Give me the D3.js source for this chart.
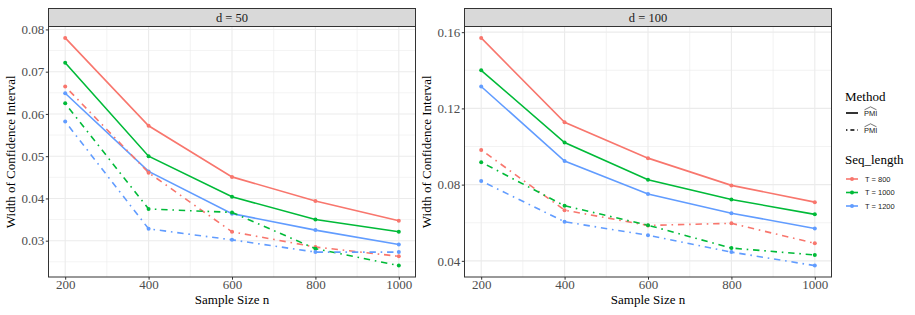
<!DOCTYPE html>
<html>
<head>
<meta charset="utf-8">
<script src="https://cdn.jsdelivr.net/npm/d3@7"></script>
<style>
  body { margin: 0; background: #fff; }
  svg { display: block; }
</style>
</head>
<body>
<div id="chart"></div>
<script>
// ---- data ----
const sampleSizes = [200, 400, 600, 800, 1000];
const panelLabels = ["d = 50", "d = 100"];
const seqLabels = ["T = 800", "T = 1000", "T = 1200"];
const methodLabels = ["PMI", "PMI"];

// d = 50, solid method
const d50_solid_T800 = [0.0780, 0.0572, 0.0451, 0.0394, 0.0347];
const d50_solid_T1000 = [0.0721, 0.0500, 0.0404, 0.0350, 0.0321];
const d50_solid_T1200 = [0.0649, 0.0464, 0.0364, 0.0325, 0.0291];
// d = 50, dot-dash method
const d50_dash_T800 = [0.0665, 0.0461, 0.0321, 0.0285, 0.0263];
const d50_dash_T1000 = [0.0625, 0.0375, 0.0367, 0.0281, 0.0241];
const d50_dash_T1200 = [0.0582, 0.0328, 0.0302, 0.0273, 0.0273];
// d = 100, solid method
const d100_solid_T800 = [0.1570, 0.1127, 0.0939, 0.0796, 0.0708];
const d100_solid_T1000 = [0.1400, 0.1021, 0.0826, 0.0722, 0.0644];
const d100_solid_T1200 = [0.1315, 0.0924, 0.0751, 0.0650, 0.0570];
// d = 100, dot-dash method
const d100_dash_T800 = [0.0982, 0.0666, 0.0586, 0.0597, 0.0492];
const d100_dash_T1000 = [0.0918, 0.0689, 0.0587, 0.0467, 0.0431];
const d100_dash_T1200 = [0.0819, 0.0605, 0.0534, 0.0446, 0.0375];

const xTicks = [200, 400, 600, 800, 1000];
const xMinor = [300, 500, 700, 900];
const yTicks50 = [0.03, 0.04, 0.05, 0.06, 0.07, 0.08];
const yMinor50 = [0.025, 0.035, 0.045, 0.055, 0.065, 0.075];
const yTicks100 = [0.04, 0.08, 0.12, 0.16];
const yMinor100 = [0.06, 0.10, 0.14];

const colors = ["#F8766D", "#00BA38", "#619CFF"];

const panels = [
  {
    label: panelLabels[0], yTicks: yTicks50, yMinor: yMinor50, fmt: d3.format(".2f"),
    series: [
      [d50_solid_T800, d50_solid_T1000, d50_solid_T1200],
      [d50_dash_T800, d50_dash_T1000, d50_dash_T1200]
    ]
  },
  {
    label: panelLabels[1], yTicks: yTicks100, yMinor: yMinor100, fmt: d3.format(".2f"),
    series: [
      [d100_solid_T800, d100_solid_T1000, d100_solid_T1200],
      [d100_dash_T800, d100_dash_T1000, d100_dash_T1200]
    ]
  }
];

// ---- layout ----
const W = 915, H = 315;
const panelX = [48.5, 464.5];
const panelW = 367;
const stripTop = 8.5, stripBottom = 26.5, plotBottom = 277;
const serif = "'Liberation Serif', 'Times New Roman', serif";
const sans = "'Liberation Sans', Arial, sans-serif";
const dotdash = "1.6,4.8,6.4,4.8";

const svg = d3.select("#chart").append("svg")
  .attr("width", W).attr("height", H);

panels.forEach((p, pi) => {
  const x0 = panelX[pi];
  const all = p.series.flat(2);
  const lo = d3.min(all), hi = d3.max(all), pad = (hi - lo) * 0.05;

  const x = d3.scaleLinear().domain([160, 1040]).range([x0, x0 + panelW]);
  const y = d3.scaleLinear().domain([lo - pad, hi + pad]).range([plotBottom, stripBottom]);

  const g = svg.append("g");

  // grid
  g.selectAll(".ymin").data(p.yMinor).enter().append("line")
    .attr("x1", x0).attr("x2", x0 + panelW)
    .attr("y1", d => y(d)).attr("y2", d => y(d))
    .attr("stroke", "#EBEBEB").attr("stroke-width", 0.6);
  g.selectAll(".xmin").data(xMinor).enter().append("line")
    .attr("y1", stripBottom).attr("y2", plotBottom)
    .attr("x1", d => x(d)).attr("x2", d => x(d))
    .attr("stroke", "#EBEBEB").attr("stroke-width", 0.6);
  g.selectAll(".ymaj").data(p.yTicks).enter().append("line")
    .attr("x1", x0).attr("x2", x0 + panelW)
    .attr("y1", d => y(d)).attr("y2", d => y(d))
    .attr("stroke", "#EBEBEB").attr("stroke-width", 1.1);
  g.selectAll(".xmaj").data(xTicks).enter().append("line")
    .attr("y1", stripBottom).attr("y2", plotBottom)
    .attr("x1", d => x(d)).attr("x2", d => x(d))
    .attr("stroke", "#EBEBEB").attr("stroke-width", 1.1);

  // lines and points
  const line = d3.line().x((d, i) => x(sampleSizes[i])).y(d => y(d));
  p.series.forEach((method, mi) => {
    method.forEach((vals, si) => {
      g.append("path").datum(vals)
        .attr("d", line)
        .attr("fill", "none")
        .attr("stroke", colors[si])
        .attr("stroke-width", 1.6)
        .attr("stroke-dasharray", mi === 1 ? dotdash : null);
      g.selectAll(null).data(vals).enter().append("circle")
        .attr("cx", (d, i) => x(sampleSizes[i]))
        .attr("cy", d => y(d))
        .attr("r", 2)
        .attr("fill", colors[si]);
    });
  });

  // border
  g.append("rect")
    .attr("x", x0).attr("y", stripBottom)
    .attr("width", panelW).attr("height", plotBottom - stripBottom)
    .attr("fill", "none").attr("stroke", "#333333").attr("stroke-width", 1);

  // strip
  g.append("rect")
    .attr("x", x0).attr("y", stripTop)
    .attr("width", panelW).attr("height", stripBottom - stripTop)
    .attr("fill", "#D9D9D9").attr("stroke", "#333333").attr("stroke-width", 1);
  g.append("text")
    .attr("x", x0 + panelW / 2).attr("y", (stripTop + stripBottom) / 2)
    .attr("dy", "0.35em").attr("text-anchor", "middle")
    .attr("font-family", serif).attr("font-size", 12.5).attr("fill", "#1A1A1A")
    .text(p.label);

  // axes
  const xAxis = g.append("g")
    .attr("transform", `translate(0,${plotBottom})`)
    .call(d3.axisBottom(x).tickValues(xTicks).tickSize(2.7).tickPadding(0.5).tickFormat(d3.format("d")));
  const yAxis = g.append("g")
    .attr("transform", `translate(${x0},0)`)
    .call(d3.axisLeft(y).tickValues(p.yTicks).tickSize(2.7).tickPadding(1.5).tickFormat(p.fmt));
  [xAxis, yAxis].forEach(a => {
    a.select(".domain").remove();
    a.selectAll(".tick line").attr("stroke", "#333333");
    a.selectAll(".tick text")
      .attr("font-family", serif).attr("font-size", 13).attr("fill", "#4D4D4D");
  });

  // axis titles
  g.append("text")
    .attr("x", x0 + panelW / 2).attr("y", 303.5)
    .attr("text-anchor", "middle")
    .attr("font-family", serif).attr("font-size", 13)
    .text("Sample Size n");
  g.append("text")
    .attr("transform", `translate(${x0 - 34},${(stripBottom + plotBottom) / 2}) rotate(-90)`)
    .attr("text-anchor", "middle")
    .attr("font-family", serif).attr("font-size", 13)
    .text("Width of Confidence Interval");
});

// ---- legend ----
const lg = svg.append("g").attr("transform", "translate(845,0)");
lg.append("text").attr("x", 0).attr("y", 101)
  .attr("font-family", serif).attr("font-size", 13).text("Method");

const methodRows = lg.selectAll(".mrow").data(methodLabels).enter().append("g")
  .attr("transform", (d, i) => `translate(0,${113 + i * 17})`);
methodRows.append("line")
  .attr("x1", 1).attr("x2", 13).attr("y1", 0).attr("y2", 0)
  .attr("stroke", "#000").attr("stroke-width", 1.6)
  .attr("stroke-dasharray", (d, i) => i === 1 ? "1.4,3,4,3" : null);
methodRows.append("text")
  .attr("x", 19).attr("y", 3)
  .attr("font-family", sans).attr("font-size", 7.5).attr("fill", "#1A1A1A")
  .text(d => d);
methodRows.append("path")
  .attr("d", "M19.5,-3.2 L25.5,-6.2 L31.5,-3.2")
  .attr("fill", "none").attr("stroke", "#1A1A1A").attr("stroke-width", 0.6);

lg.append("text").attr("x", 0).attr("y", 164)
  .attr("font-family", serif).attr("font-size", 13).text("Seq_length");

const seqRows = lg.selectAll(".srow").data(seqLabels).enter().append("g")
  .attr("transform", (d, i) => `translate(0,${179 + i * 13.5})`);
seqRows.append("line")
  .attr("x1", 1).attr("x2", 13).attr("y1", 0).attr("y2", 0)
  .attr("stroke", (d, i) => colors[i]).attr("stroke-width", 1.6);
seqRows.append("circle")
  .attr("cx", 7).attr("cy", 0).attr("r", 2)
  .attr("fill", (d, i) => colors[i]);
seqRows.append("text")
  .attr("x", 20).attr("y", 2.8)
  .attr("font-family", sans).attr("font-size", 7.5).attr("fill", "#1A1A1A")
  .text(d => d);
</script>
</body>
</html>
